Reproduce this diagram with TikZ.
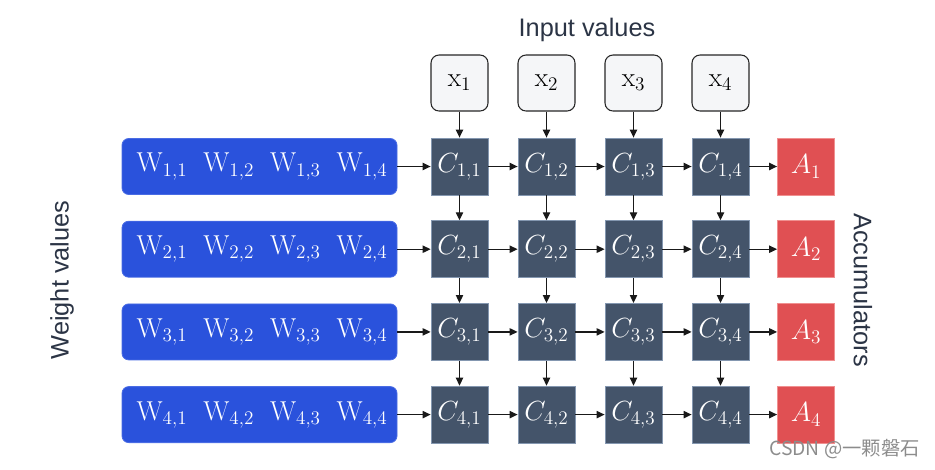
\documentclass[tikz,border=0pt]{standalone}
\usepackage{fontspec}
\setsansfont{Liberation Sans}
\newfontfamily\cjkfont{Noto Sans CJK SC}
\usetikzlibrary{arrows.meta}
\definecolor{cellfill}{HTML}{44546A}
\definecolor{celledge}{HTML}{8497B0}
\definecolor{accfill}{HTML}{E05053}
\definecolor{accedge}{HTML}{F09090}
\definecolor{wfill}{HTML}{2A52DC}
\definecolor{wedge}{HTML}{4A6CE4}
\definecolor{infill}{HTML}{F5F6F8}
\definecolor{labtext}{HTML}{2B3445}
\tikzset{
  cellbox/.style={draw=celledge, line width=0.6pt, fill=cellfill, text=white,
    minimum width=42.75pt, minimum height=42.75pt, inner sep=0pt, font=\fontsize{20.5}{24}\selectfont},
  accbox/.style={draw=accedge, line width=0.6pt, fill=accfill, text=white,
    minimum width=42.75pt, minimum height=42.75pt, inner sep=0pt, font=\fontsize{20.5}{24}\selectfont},
  inbox/.style={draw=black!85, line width=0.8pt, fill=infill, rounded corners=6pt,
    minimum width=42.75pt, minimum height=42pt, inner sep=0pt, font=\fontsize{20.5}{24}\selectfont},
  wbox/.style={draw=wedge, line width=0.6pt, fill=wfill, rounded corners=5pt,
    minimum width=206.25pt, minimum height=42pt, inner sep=0pt},
  wlab/.style={text=white, inner sep=0pt, font=\fontsize{20.5}{24}\selectfont},
  flow/.style={draw=black!90, line width=0.9pt, -{Triangle[length=6pt,width=5.5pt]}},
  sidelab/.style={text=labtext, inner sep=0pt, font=\sffamily\fontsize{19}{23}\selectfont}
}
\begin{document}
\begin{tikzpicture}[x=0.75pt,y=-0.75pt]
\useasboundingbox (0,0) rectangle (935,469);
\node[sidelab] (intitle) at (587,30) {Input values};
\node[sidelab, rotate=90] (wtitle) at (62,280) {Weight values};
\node[sidelab, rotate=-90] (acctitle) at (863,290) {Accumulators};
\foreach \j in {1,...,4} {
  \node[inbox] (x\j) at ({459.5+87*(\j-1)},83) {$\mathrm{x}_{\j}$};
}
\foreach \i in {1,...,4} {
  \node[wbox] (w\i) at (259.5,{166.5+82.7*(\i-1)}) {};
  \foreach \j in {1,...,4} {
    \node[wlab] (wl\i\j) at ({162+66.7*(\j-1)},{166.5+82.7*(\i-1)}) {$\mathrm{W}_{\i,\j}$};
    \node[cellbox] (c\i\j) at ({459.5+87*(\j-1)},{166.5+82.7*(\i-1)}) {$C_{\i,\j}$};
  }
  \node[accbox] (a\i) at (806,{166.5+82.7*(\i-1)}) {$A_{\i}$};
  \draw[flow] (w\i) -- (c\i1);
  \draw[flow] (c\i1) -- (c\i2);
  \draw[flow] (c\i2) -- (c\i3);
  \draw[flow] (c\i3) -- (c\i4);
  \draw[flow] (c\i4) -- (a\i);
}
\foreach \j in {1,...,4} {
  \draw[flow] (x\j) -- (c1\j);
  \draw[flow] (c1\j) -- (c2\j);
  \draw[flow] (c2\j) -- (c3\j);
  \draw[flow] (c3\j) -- (c4\j);
}
\node[text=black!45, inner sep=0pt, anchor=east, font=\cjkfont\fontsize{14.5}{17}\selectfont] (mark) at (920,449) {CSDN @一颗磐石};
\end{tikzpicture}
\end{document}
